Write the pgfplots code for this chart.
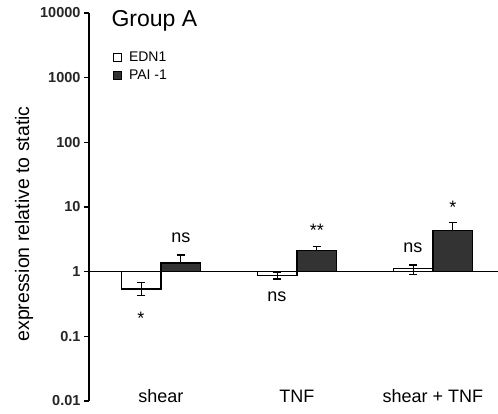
\documentclass[border=0pt]{standalone}
\usepackage{fontspec}
\setmainfont{Liberation Sans}
\usepackage{pgfplots}
\pgfplotsset{compat=1.18}
\newcommand{\fs}[1]{\fontsize{#1}{#1}\selectfont}
\definecolor{darkbar}{HTML}{333333}
\begin{document}
\begin{tikzpicture}
\path[use as bounding box] (0,0) rectangle (498pt,414pt);
\begin{axis}[
  at={(89pt,13pt)}, anchor=south west,
  scale only axis, width=409pt, height=388pt,
  ymode=log, log origin y=0,
  xmin=-0.529, xmax=2.478, ymin=0.01, ymax=10000,
  axis x line=none, axis y line*=left,
  y axis line style={line width=1.4pt},
  ytick={0.01,0.1,1,10,100,1000,10000},
  yticklabels={0.01,0.1,1,10,100,1000,10000},
  yminorticks=false,
  tick align=outside, major tick length=5pt,
  major tick style={line width=1.2pt, black},
  yticklabel style={font=\fs{14.5}\bfseries, text=black!85},
  ybar=0pt, bar width=0.29,
  clip=false,
  legend style={draw=none, fill=none, inner sep=0pt,
    at={(0.0587,0.905)}, anchor=north west, font=\fs{14},
    row sep=3pt, column sep=5pt},
  legend cell align=left,
  legend image code/.code={\draw[#1, line width=0.8pt] (0pt,-4pt) rectangle (8pt,4pt);},
]
\addplot[fill=white, draw=black, line width=1.1pt,
  error bars/.cd, y dir=both, y explicit,
  error bar style={line width=1.1pt, black},
  error mark options={rotate=90, line width=1.1pt, mark size=4pt, black}]
  coordinates {
  (0,0.54) += (0,0.13) -= (0,0.11)
  (1,0.88) += (0,0.10) -= (0,0.11)
  (2,1.12) += (0,0.15) -= (0,0.22)
};
\addplot[fill=darkbar, draw=black, line width=1.1pt,
  error bars/.cd, y dir=plus, y explicit,
  error bar style={line width=1.1pt, black},
  error mark options={rotate=90, line width=1.1pt, mark size=4pt, black}]
  coordinates {
  (0,1.36) += (0,0.45) -= (0,0)
  (1,2.13) += (0,0.33) -= (0,0)
  (2,4.30) += (0,1.55) -= (0,0)
};
\legend{EDN1, PAI -1}
\addplot[sharp plot, black, line width=0.9pt, forget plot]
  coordinates {(-0.529,1) (2.478,1)};
% significance marks
\node[font=\fs{18}] at (axis cs:0.147,3.35) {ns};
\node[font=\fs{18}, yshift=-4pt] at (axis cs:-0.147,0.216) {*};
\node[font=\fs{18}] at (axis cs:0.853,0.41) {ns};
\node[font=\fs{18}, yshift=-4pt] at (axis cs:1.147,4.96) {**};
\node[font=\fs{18}] at (axis cs:1.853,2.35) {ns};
\node[font=\fs{18}, yshift=-4pt] at (axis cs:2.147,11.6) {*};
% category labels
\node[font=\fs{18}, anchor=base, yshift=-2pt] at (axis cs:0,0.01) {shear};
\node[font=\fs{18}, anchor=base, yshift=-2pt] at (axis cs:1,0.01) {TNF};
\node[font=\fs{18}, anchor=base, yshift=-2pt] at (axis cs:2,0.01) {shear + TNF};
\end{axis}
\node[anchor=base west, font=\fs{23}] at (108pt,387pt) {Group A};
\node[rotate=90, anchor=base, font=\fs{19.5}] at (29pt,190pt) {expression relative to static};
\end{tikzpicture}
\end{document}
